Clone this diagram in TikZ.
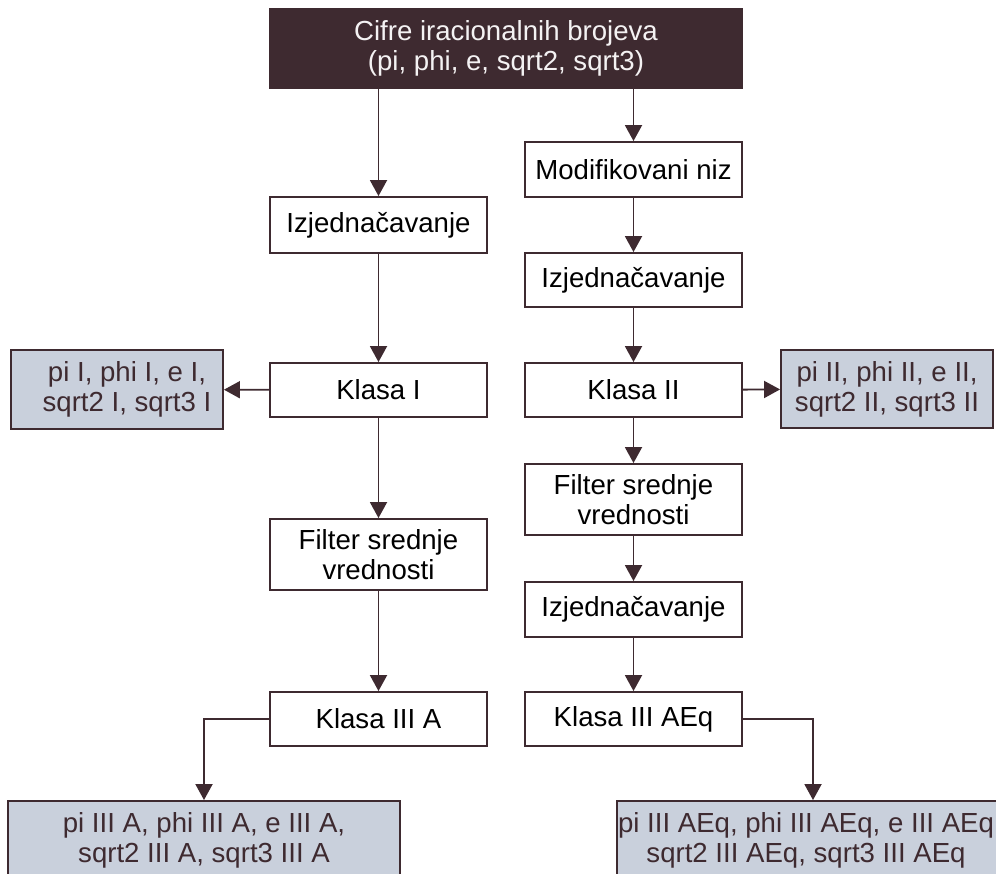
\documentclass[tikz,border=0pt]{standalone}
\usepackage{fontspec}
\setmainfont{Liberation Sans}
\usetikzlibrary{arrows.meta}
\definecolor{ink}{HTML}{3E2A30}
\definecolor{steel}{HTML}{C9D0DC}
\definecolor{paper}{HTML}{F4F2F3}

\begin{document}
\begin{tikzpicture}[x=1pt,y=-1pt,
  every node/.style={font=\fontsize{27.6}{30}\selectfont, inner sep=0pt, align=center},
  headbox/.style={draw=ink, line width=1.9pt, fill=ink, text=paper,
                  minimum width=472pt, minimum height=79pt},
  procbox/.style={draw=ink, line width=1.9pt, fill=white, text=black,
                  minimum width=217pt},
  outbox/.style={draw=ink, line width=1.9pt, fill=steel, text=ink,
                 minimum height=79pt},
  link/.style={draw=ink, line width=1.9pt, -{Triangle[width=17pt,length=16pt]}}]

\clip (0,0) rectangle (996,874);
\fill[white] (0,0) rectangle (996,874);

% source
\node[headbox] (src) at (506,48.5) {Cifre iracionalnih brojeva\\(pi, phi, e, sqrt2, sqrt3)};

% left branch
\node[procbox, minimum height=56pt] (lizj) at (378.5,225) {Izjedna\v{c}avanje};
\node[procbox, minimum height=54pt] (kI)   at (378.5,390) {Klasa I};
\node[procbox, minimum height=71pt] (lfil) at (378.5,554.5) {Filter srednje\\vrednosti};
\node[procbox, minimum height=54pt] (kIIIA) at (378.5,719) {Klasa III A};

% right branch
\node[procbox, minimum height=55pt] (rmod)  at (633.5,169.5) {Modifikovani niz};
\node[procbox, minimum height=54pt] (rizj)  at (633.5,280) {Izjedna\v{c}avanje};
\node[procbox, minimum height=54pt] (kII)   at (633.5,390) {Klasa II};
\node[procbox, minimum height=71pt] (rfil)  at (633.5,499.5) {Filter srednje\\vrednosti};
\node[procbox, minimum height=55pt] (rizjb) at (633.5,609.5) {Izjedna\v{c}avanje};
\node[procbox, minimum height=54pt] (kIIIAEq) at (633.5,719) {Klasa III AEq};

% outputs
\node[outbox, minimum width=212pt] (outI) at (117,389.5)
  {\hspace*{20pt}pi I, phi I, e I,\\\hspace*{20pt}sqrt2 I, sqrt3 I};
\node[outbox, minimum width=212pt, minimum height=78pt] (outII) at (887,389)
  {pi II, phi II, e II,\\sqrt2 II, sqrt3 II};
\node[outbox, minimum width=392pt] (outA) at (204,840.5)
  {pi III A, phi III A, e III A,\\sqrt2 III A, sqrt3 III A};
\node[outbox, minimum width=392pt] (outAEq) at (813,840.5)
  {pi III AEq, phi III AEq, e III AEq\hspace*{14pt}\\sqrt2 III AEq, sqrt3 III AEq\hspace*{14pt}};

% connectors
\draw[link] (src.south -| lizj.north) -- (lizj.north);
\draw[link] (src.south -| rmod.north) -- (rmod.north);
\draw[link] (lizj) -- (kI);
\draw[link] (kI) -- (lfil);
\draw[link] (lfil) -- (kIIIA);
\draw[link] (rmod) -- (rizj);
\draw[link] (rizj) -- (kII);
\draw[link] (kII) -- (rfil);
\draw[link] (rfil) -- (rizjb);
\draw[link] (rizjb) -- (kIIIAEq);
\draw[link] (kI) -- (outI);
\draw[link] (kII) -- (outII);
\draw[link] (kIIIA.west) -| (outA.north);
\draw[link] (kIIIAEq.east) -| (outAEq.north);
\end{tikzpicture}
\end{document}
